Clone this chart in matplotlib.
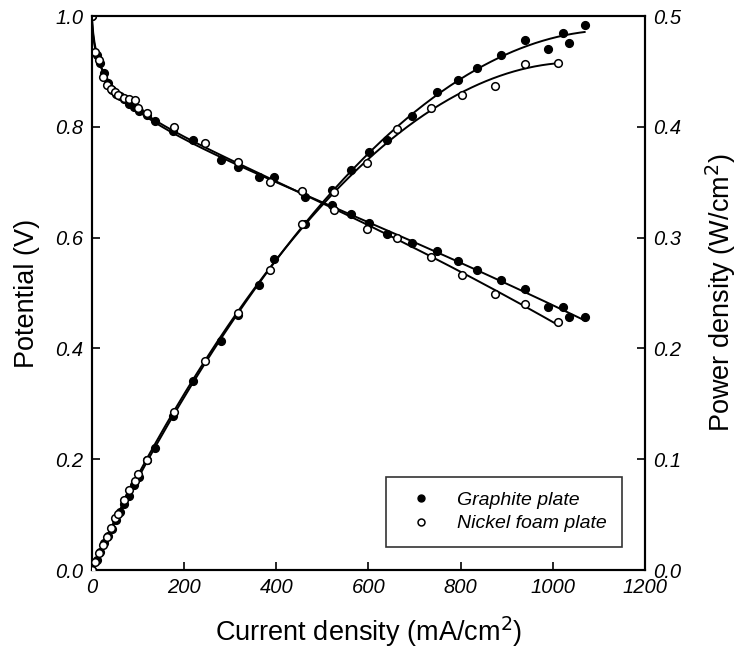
import numpy as np
import matplotlib
matplotlib.use("Agg")
import matplotlib.pyplot as plt
from matplotlib.lines import Line2D

# ---------------- data ----------------
# Graphite plate (filled circles)
current_g = [0, 10, 18, 27, 35, 43, 52, 61, 70, 80, 92, 102, 120, 136, 175, 220,
             279, 316, 362, 396, 463, 521, 562, 602, 640, 695, 749, 794, 835,
             888, 940, 990, 1021, 1035, 1069]
potential_g = [1.0, 0.93, 0.915, 0.898, 0.880, 0.866, 0.860, 0.855, 0.850, 0.842,
               0.836, 0.828, 0.822, 0.810, 0.792, 0.777, 0.741, 0.728, 0.709,
               0.710, 0.674, 0.659, 0.643, 0.626, 0.607, 0.590, 0.575, 0.557,
               0.542, 0.523, 0.507, 0.474, 0.474, 0.457, 0.456]
power_g = [0, 0.009, 0.016, 0.024, 0.031, 0.037, 0.045, 0.052, 0.060, 0.067,
           0.077, 0.084, 0.099, 0.110, 0.139, 0.171, 0.207, 0.230, 0.257, 0.281,
           0.312, 0.343, 0.361, 0.377, 0.388, 0.410, 0.431, 0.442, 0.453, 0.465,
           0.478, 0.470, 0.485, 0.476, 0.492]

# Nickel foam plate (open circles)
current_n = [0, 7, 15, 25, 32, 41, 50, 57, 70, 81, 93, 100, 120, 178, 246, 316,
             387, 456, 525, 596, 662, 736, 802, 875, 940, 1012]
potential_n = [1.0, 0.935, 0.92, 0.89, 0.875, 0.868, 0.862, 0.858, 0.852, 0.851,
               0.848, 0.834, 0.825, 0.800, 0.770, 0.736, 0.701, 0.685, 0.650,
               0.615, 0.599, 0.565, 0.532, 0.499, 0.481, 0.447]
power_n = [0, 0.0075, 0.015, 0.023, 0.030, 0.038, 0.047, 0.051, 0.063, 0.072,
           0.080, 0.087, 0.099, 0.143, 0.189, 0.232, 0.271, 0.312, 0.341, 0.367,
           0.398, 0.417, 0.429, 0.437, 0.457, 0.458]

series_labels = ["Graphite plate", "Nickel foam plate"]
x_ticks = [0, 200, 400, 600, 800, 1000, 1200]
y_left_ticks = [0.0, 0.2, 0.4, 0.6, 0.8, 1.0]
y_right_ticks = [0.0, 0.1, 0.2, 0.3, 0.4, 0.5]

# ---------------- figure ----------------
plt.rcParams['font.family'] = ['Liberation Sans', 'DejaVu Sans']
fig = plt.figure(figsize=(7.37, 6.57), dpi=100)
ax = fig.add_axes([0.1248, 0.1324, 0.7504, 0.8432])
ax2 = ax.twinx()


def basis(i):
    i = np.asarray(i, float)
    return np.column_stack([np.ones_like(i), np.log(i + 3.0), i, i ** 2])


def fit_polarization(i, v):
    coef, *_ = np.linalg.lstsq(basis(i), np.asarray(v, float), rcond=None)
    xs = np.linspace(0, max(i), 400)
    return xs, basis(xs) @ coef


def fit_power(i, p):
    i = np.asarray(i, float)
    A = basis(i) * i[:, None]
    coef, *_ = np.linalg.lstsq(A, np.asarray(p, float), rcond=None)
    xs = np.linspace(0, i.max(), 400)
    return xs, (basis(xs) * xs[:, None]) @ coef


for cur, pot, pw, filled in [(current_g, potential_g, power_g, True),
                             (current_n, potential_n, power_n, False)]:
    xs, vs = fit_polarization(cur, pot)
    ax.plot(xs, vs, color='black', lw=1.4, zorder=2)
    xp, ps = fit_power(cur, pw)
    ax2.plot(xp, ps, color='black', lw=1.4, zorder=2)
    fc = 'black' if filled else 'white'
    ax.plot(cur, pot, 'o', ms=5.5, mfc=fc, mec='black', mew=1.1, zorder=3)
    ax2.plot(cur, pw, 'o', ms=5.5, mfc=fc, mec='black', mew=1.1, zorder=3)

ax.set_xlim(0, 1200)
ax.set_ylim(0, 1.0)
ax2.set_ylim(0, 0.5)
ax.set_xticks(x_ticks)
ax.set_xticklabels([str(t) for t in x_ticks])
ax.set_yticks(y_left_ticks)
ax.set_yticklabels([f"{t:.1f}" for t in y_left_ticks])
ax2.set_yticks(y_right_ticks)
ax2.set_yticklabels([f"{t:.1f}" for t in y_right_ticks])

for a in (ax, ax2):
    a.tick_params(direction='in', length=6, width=1.2, labelsize=14.5, pad=6)
    for lab in a.get_xticklabels() + a.get_yticklabels():
        lab.set_fontstyle('italic')
    for s in a.spines.values():
        s.set_linewidth(1.5)

ax.set_xlabel("Current density (mA/cm$^2$)", fontsize=19.5, labelpad=12)
ax.set_ylabel("Potential (V)", fontsize=19.5, labelpad=11)
ax2.set_ylabel("Power density (W/cm$^2$)", fontsize=19.5, labelpad=16)

handles = [Line2D([], [], ls='none', marker='o', ms=5, mfc='black', mec='black'),
           Line2D([], [], ls='none', marker='o', ms=5, mfc='white', mec='black', mew=1.1)]
leg = ax.legend(handles, series_labels, loc='lower right',
                bbox_to_anchor=(0.958, 0.0415), frameon=True, fancybox=False,
                prop={'style': 'italic', 'size': 14}, borderpad=0.75,
                handletextpad=0.9, labelspacing=0.3, borderaxespad=0)
leg.get_frame().set_edgecolor('black')
leg.get_frame().set_linewidth(1.2)

fig.savefig("out.png", dpi=100)
